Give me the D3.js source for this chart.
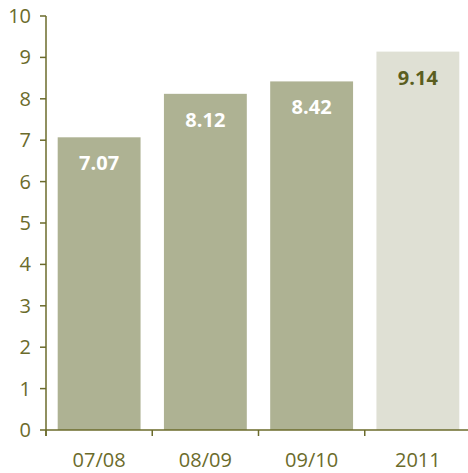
<!DOCTYPE html>
<html>
<head>
<meta charset="utf-8">
<script src="https://cdn.jsdelivr.net/npm/d3@7"></script>
<style>
  html, body { margin: 0; padding: 0; background: #fff; }
  svg { display: block; font-family: "Open Sans", sans-serif; }
  .axis line, .axis path { stroke: #6b6b2b; stroke-width: 1.5; }
  .tick-label { fill: #6b6b2b; font-size: 20px; }
  .value { font-size: 20px; font-weight: 700; }
</style>
</head>
<body>
<div id="chart"></div>
<script>
  // chart data
  const categories = ["07/08", "08/09", "09/10", "2011"];
  const values = [7.07, 8.12, 8.42, 9.14];
  const yTicks = [0, 1, 2, 3, 4, 5, 6, 7, 8, 9, 10];

  const width = 468, height = 473;
  const plotLeft = 46, plotRight = 468, plotTop = 16, plotBottom = 430;

  const svg = d3.select("#chart").append("svg")
    .attr("width", width)
    .attr("height", height);

  const x = d3.scaleBand()
    .domain(categories)
    .range([plotLeft, 471])
    .paddingInner(0.22)
    .paddingOuter(0.11);

  const y = d3.scaleLinear().domain([0, 10]).range([plotBottom, plotTop]);

  // bars
  svg.append("g")
    .selectAll("rect")
    .data(categories)
    .join("rect")
    .attr("x", (d) => x(d))
    .attr("y", (d, i) => y(values[i]))
    .attr("width", x.bandwidth())
    .attr("height", (d, i) => plotBottom - y(values[i]))
    .attr("fill", (d, i) => (i === 3 ? "#dfe0d4" : "#aeb293"));

  // value labels
  svg.append("g")
    .selectAll("text")
    .data(categories)
    .join("text")
    .classed("value", true)
    .attr("x", (d) => x(d) + x.bandwidth() / 2)
    .attr("y", (d, i) => y(values[i]) + 33)
    .attr("text-anchor", "middle")
    .attr("fill", (d, i) => (i === 3 ? "#5b5e1f" : "#ffffff"))
    .text((d, i) => values[i].toFixed(2));

  // y axis
  const yAxis = svg.append("g").classed("axis", true);
  yAxis.append("line")
    .attr("x1", plotLeft).attr("x2", plotLeft)
    .attr("y1", plotTop).attr("y2", plotBottom + 6);
  yAxis.selectAll("line.tick")
    .data(yTicks)
    .join("line")
    .classed("tick", true)
    .attr("x1", plotLeft - 6).attr("x2", plotLeft)
    .attr("y1", (d) => y(d)).attr("y2", (d) => y(d));
  yAxis.selectAll("text")
    .data(yTicks)
    .join("text")
    .classed("tick-label", true)
    .attr("x", 31)
    .attr("y", (d) => y(d) + 7)
    .attr("text-anchor", "end")
    .text((d) => d);

  // x axis, ticks sit on band boundaries
  const step = x.step();
  const xAxis = svg.append("g").classed("axis", true);
  xAxis.append("line")
    .attr("x1", plotLeft).attr("x2", plotRight)
    .attr("y1", plotBottom).attr("y2", plotBottom);
  xAxis.selectAll("line.tick")
    .data(categories)
    .join("line")
    .classed("tick", true)
    .attr("x1", (d) => x(d) - (step - x.bandwidth()) / 2)
    .attr("x2", (d) => x(d) - (step - x.bandwidth()) / 2)
    .attr("y1", plotBottom).attr("y2", plotBottom + 6);
  xAxis.selectAll("text")
    .data(categories)
    .join("text")
    .classed("tick-label", true)
    .attr("x", (d) => x(d) + x.bandwidth() / 2)
    .attr("y", 467)
    .attr("text-anchor", "middle")
    .text((d) => d);
</script>
</body>
</html>
